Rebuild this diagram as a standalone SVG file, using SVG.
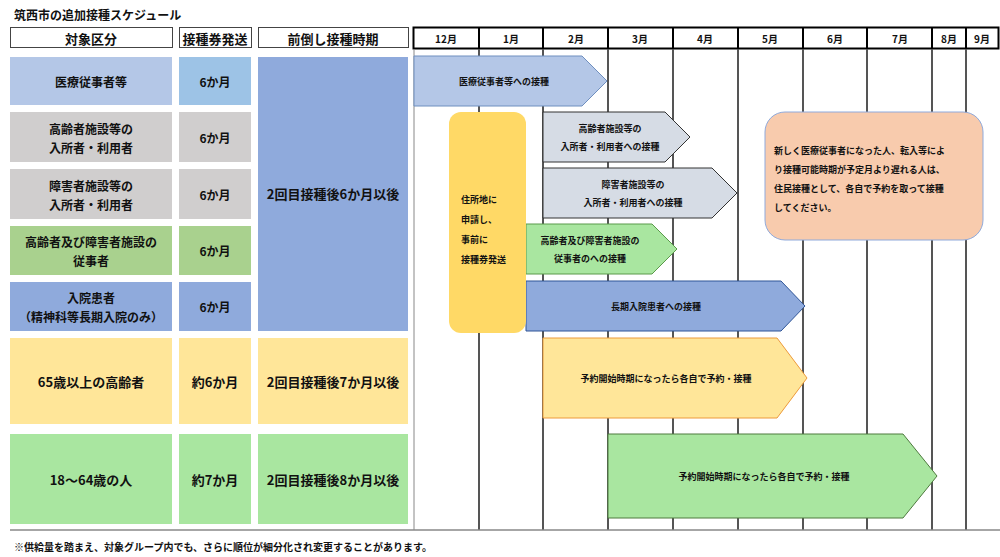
<svg xmlns="http://www.w3.org/2000/svg" width="1000" height="557" viewBox="0 0 1000 557">
<style>
text{font-family:"Noto Sans CJK JP","Noto Sans CJK SC",sans-serif;font-weight:bold;fill:#111;text-anchor:middle;dominant-baseline:central}
.h{font-size:13px}.m{font-size:10px}.s{font-size:9px}.c{font-size:12px}.b{font-size:13px}
.g{stroke:#aaa;stroke-width:1}
</style>
<rect width="1000" height="557" fill="#fff"/>
<text x="14" y="14" style="text-anchor:start" class="c">筑西市の追加接種スケジュール</text>
<g id="headers" stroke="#444" fill="#fff">
<rect x="10.5" y="27.5" width="162" height="20"/><rect x="179.5" y="27.5" width="72" height="20"/><rect x="258.5" y="27.5" width="150" height="20"/>
<rect x="413.5" y="27.5" width="585" height="21" stroke="#000" stroke-width="2"/>
</g>
<g id="ht"><text x="91" y="38" class="h">対象区分</text><text x="215" y="38" class="h">接種券発送</text><text x="333" y="38" class="h">前倒し接種時期</text></g>
<g id="grid" class="g">
<line x1="479" y1="27" x2="479" y2="530" stroke="#000" stroke-width="2"/><line x1="543" y1="27" x2="543" y2="530" stroke="#000" stroke-width="2"/><line x1="608" y1="27" x2="608" y2="530" stroke="#000" stroke-width="2"/><line x1="673" y1="27" x2="673" y2="530" stroke="#000" stroke-width="2"/><line x1="738" y1="27" x2="738" y2="530" stroke="#000" stroke-width="2"/><line x1="803" y1="27" x2="803" y2="530" stroke="#000" stroke-width="2"/><line x1="867" y1="27" x2="867" y2="530" stroke="#000" stroke-width="2"/><line x1="932" y1="27" x2="932" y2="530" stroke="#000" stroke-width="2"/><line x1="966" y1="27" x2="966" y2="530" stroke="#000" stroke-width="2"/>
<line x1="479" y1="49" x2="479" y2="530"/><line x1="543" y1="49" x2="543" y2="530"/><line x1="608" y1="49" x2="608" y2="530"/><line x1="673" y1="49" x2="673" y2="530"/><line x1="738" y1="49" x2="738" y2="530"/><line x1="803" y1="49" x2="803" y2="530"/><line x1="867" y1="49" x2="867" y2="530"/><line x1="932" y1="49" x2="932" y2="530"/><line x1="966" y1="49" x2="966" y2="530"/>
<line x1="414" y1="49" x2="414" y2="530" stroke="#888"/><line x1="10" y1="530" x2="1000" y2="530" stroke="#888" stroke-width="1.5"/>
</g>
<g id="months" class="m"><text x="446" y="38">12月</text><text x="511" y="38">1月</text><text x="576" y="38">2月</text><text x="640" y="38">3月</text><text x="705" y="38">4月</text><text x="770" y="38">5月</text><text x="835" y="38">6月</text><text x="900" y="38">7月</text><text x="949" y="38">8月</text><text x="982" y="38">9月</text></g>
<g id="rows">
<rect x="10" y="57" width="162" height="48" fill="#b4c7e7"/><rect x="179" y="57" width="72" height="48" fill="#9dc3e6"/>
<rect x="10" y="112" width="162" height="50" fill="#d0cece"/><rect x="179" y="112" width="72" height="50" fill="#d0cece"/>
<rect x="10" y="169" width="162" height="50" fill="#d0cece"/><rect x="179" y="169" width="72" height="50" fill="#d0cece"/>
<rect x="10" y="226" width="162" height="49" fill="#a9d18e"/><rect x="179" y="226" width="72" height="49" fill="#a9d18e"/>
<rect x="10" y="282" width="162" height="49" fill="#8faadc"/><rect x="179" y="282" width="72" height="49" fill="#8faadc"/>
<rect x="258" y="57" width="150" height="274" fill="#8faadc"/>
<rect x="10" y="338" width="162" height="86" fill="#ffe699"/><rect x="179" y="338" width="72" height="86" fill="#ffe699"/><rect x="258" y="338" width="150" height="86" fill="#ffe699"/>
<rect x="10" y="434" width="162" height="90" fill="#a9e6a0"/><rect x="179" y="434" width="72" height="90" fill="#a9e6a0"/><rect x="258" y="434" width="150" height="90" fill="#a9e6a0"/>
</g>
<g id="rowtext" class="c">
<text x="91" y="81">医療従事者等</text><text x="215" y="81">6か月</text>
<text x="91" y="128">高齢者施設等の</text><text x="91" y="147">入所者・利用者</text><text x="215" y="137">6か月</text>
<text x="91" y="185">障害者施設等の</text><text x="91" y="204">入所者・利用者</text><text x="215" y="194">6か月</text>
<text x="91" y="241">高齢者及び障害者施設の</text><text x="91" y="260">従事者</text><text x="215" y="250">6か月</text>
<text x="91" y="297">入院患者</text><text x="91" y="316">（精神科等長期入院のみ）</text><text x="215" y="306">6か月</text>
<text x="333" y="193" class="b">2回目接種後6か月以後</text>
<text x="91" y="381" class="b">65歳以上の高齢者</text><text x="215" y="381" class="b">約6か月</text><text x="333" y="381" class="b">2回目接種後7か月以後</text>
<text x="91" y="479" class="b">18～64歳の人</text><text x="215" y="479" class="b">約7か月</text><text x="333" y="479" class="b">2回目接種後8か月以後</text>
</g>
<g id="arrows" stroke-width="1">
<path d="M414 56H582L607 81L582 106H414Z" fill="#b4c7e7" stroke="#6f8fbf"/>
<path d="M543 112H665L690 137L665 162H543Z" fill="#d6dce5" stroke="#333"/>
<path d="M543 168H712L737 193L712 218H543Z" fill="#d6dce5" stroke="#333"/>
<path d="M526 224H652L677 249L652 274H526Z" fill="#a9e6a0" stroke="#5a9a4a"/>
<path d="M526 281H781L805 306L781 331H526Z" fill="#8faadc" stroke="#2f5597"/>
<path d="M543 338H777L807 378L777 418H543Z" fill="#ffe699" stroke="#ed9a3a"/>
<path d="M608 434H903L937 476L903 518H608Z" fill="#a9e6a0" stroke="#4e7a3e"/>
<rect x="449" y="112" width="77" height="221" rx="12" fill="#ffd966"/>
<rect x="765" y="112" width="218" height="128" rx="20" fill="#f8cbad" stroke="#8faadc"/>
</g>
<g id="arrowtext" class="s">
<text x="504" y="81">医療従事者等への接種</text>
<text x="610" y="128">高齢者施設等の</text><text x="610" y="146">入所者・利用者への接種</text>
<text x="633" y="184">障害者施設等の</text><text x="633" y="202">入所者・利用者への接種</text>
<text x="590" y="240">高齢者及び障害者施設の</text><text x="590" y="258">従事者のへの接種</text>
<text x="656" y="306">長期入院患者への接種</text>
<text x="666" y="378">予約開始時期になったら各自で予約・接種</text>
<text x="764" y="476">予約開始時期になったら各自で予約・接種</text>
<g style="text-anchor:start"><text x="461" y="199" style="text-anchor:start">住所地に</text><text x="461" y="219" style="text-anchor:start">申請し、</text><text x="461" y="239" style="text-anchor:start">事前に</text><text x="461" y="259" style="text-anchor:start">接種券発送</text>
<text x="774" y="150" style="text-anchor:start">新しく医療従事者になった人、転入等によ</text><text x="774" y="169" style="text-anchor:start">り接種可能時期が予定月より遅れる人は、</text><text x="774" y="188" style="text-anchor:start">住民接種として、各自で予約を取って接種</text><text x="774" y="207" style="text-anchor:start">してください。</text></g>
</g>
<text x="14" y="546" class="m" style="text-anchor:start">※供給量を踏まえ、対象グループ内でも、さらに順位が細分化され変更することがあります。</text>
</svg>
